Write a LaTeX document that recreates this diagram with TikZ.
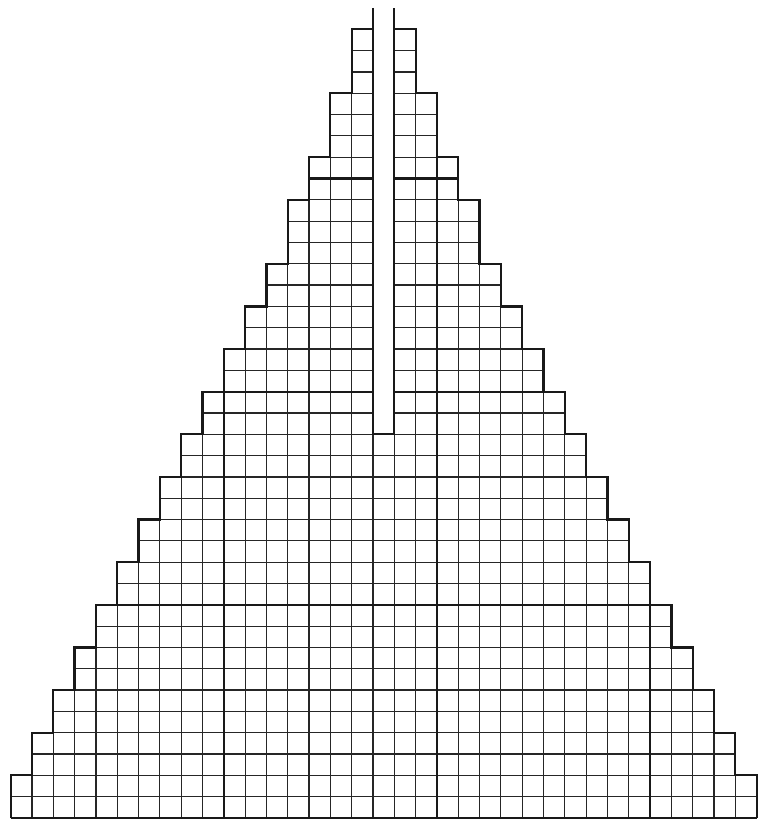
\documentclass[tikz,border=0pt]{standalone}
\usepackage{xcolor}
\usepackage{tikz}

\begin{document}
\begin{tikzpicture}[
  x=0.5cm, y=0.5cm,
  cell/.style={draw=black!85, line width=0.8pt, step=0.5cm},
  major/.style={draw=black!90, line width=1.4pt},
  edge/.style={draw=black!90, line width=1.5pt, line join=miter}
]
  \useasboundingbox (-0.5,-0.05) rectangle (35.155,38.375);

  % columns of cells, left half mirrored to the right half
  \foreach \c/\h in {0/2,1/4,2/6,3/8,4/10,5/12,6/14,7/16,8/18,9/20,10/22,11/24,12/26,13/29,14/31,15/34,16/37} {
    \draw[cell] (\c,0) grid (\c+1,\h);
    \draw[cell] (34-\c,0) grid (35-\c,\h);
  }
  % middle column below the slot
  \draw[cell] (17,0) grid (18,18);

  % every tenth line
  \draw[major] (4,10) -- (31,10);
  \draw[major] (9,20) -- (17,20) (18,20) -- (26,20);
  \draw[major] (14,30) -- (17,30) (18,30) -- (21,30);
  \draw[major] (10,0) -- (10,22);
  \draw[major] (20,0) -- (20,34);
  \draw[major] (30,0) -- (30,12);

  % outline
  \draw[edge] (0,0) \foreach \c/\h in {0/2,1/4,2/6,3/8,4/10,5/12,6/14,7/16,8/18,9/20,10/22,11/24,12/26,13/29,14/31,15/34,16/37} {-- (\c,\h) -- ++(1,0)};
  \draw[edge] (35,0) \foreach \c/\h in {0/2,1/4,2/6,3/8,4/10,5/12,6/14,7/16,8/18,9/20,10/22,11/24,12/26,13/29,14/31,15/34,16/37} {-- (35-\c,\h) -- ++(-1,0)};
  \draw[edge] (17,38) -- (17,18) -- (18,18) -- (18,38);
  \draw[edge] (0,0) -- (35,0);
\end{tikzpicture}
\end{document}
